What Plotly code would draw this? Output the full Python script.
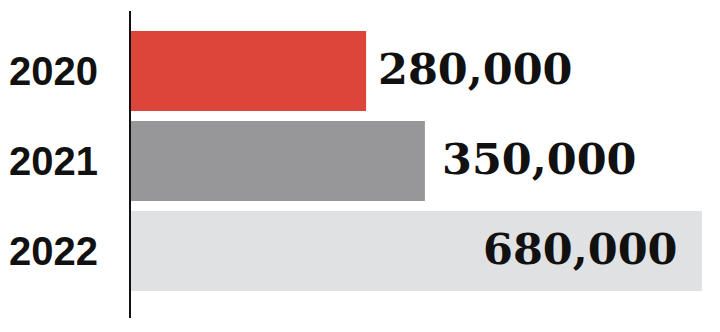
import plotly.graph_objects as go

years = ["2020", "2021", "2022"]
values = [280000, 350000, 680000]
labels = ["280,000", "350,000", "680,000"]
colors = ["#DC453A", "#97979A", "#E0E1E3"]
label_inside = [False, False, True]
label_offsets = [10, 15, -22]

fig = go.Figure()
fig.add_trace(go.Bar(
    x=values, y=years, orientation="h",
    marker=dict(color=colors, line=dict(width=0)),
    width=0.89, hoverinfo="skip",
))

for i, (v, t, inside, off) in enumerate(zip(values, labels, label_inside, label_offsets)):
    fig.add_annotation(
        x=v, y=i, xref="x", yref="y", text=t, showarrow=False,
        xanchor="right" if inside else "left",
        xshift=off, yanchor="middle", yshift=2,
        font=dict(family="DejaVu Serif", size=43, color="#111111", weight="bold"),
    )

fig.update_layout(
    width=720, height=332,
    margin=dict(l=131, r=18, t=11, b=14),
    paper_bgcolor="white", plot_bgcolor="white",
    showlegend=False,
    xaxis=dict(range=[0, 680000], visible=False, fixedrange=True),
    yaxis=dict(
        type="category", range=[2.744, -0.667], automargin=False,
        showline=True, linecolor="#111111", linewidth=2,
        showgrid=False, zeroline=False, ticks="",
        ticklabelstandoff=23,
        tickfont=dict(family="Liberation Sans", size=40,
                      color="#111111", weight="bold"),
    ),
)

fig.write_html("out.html")
